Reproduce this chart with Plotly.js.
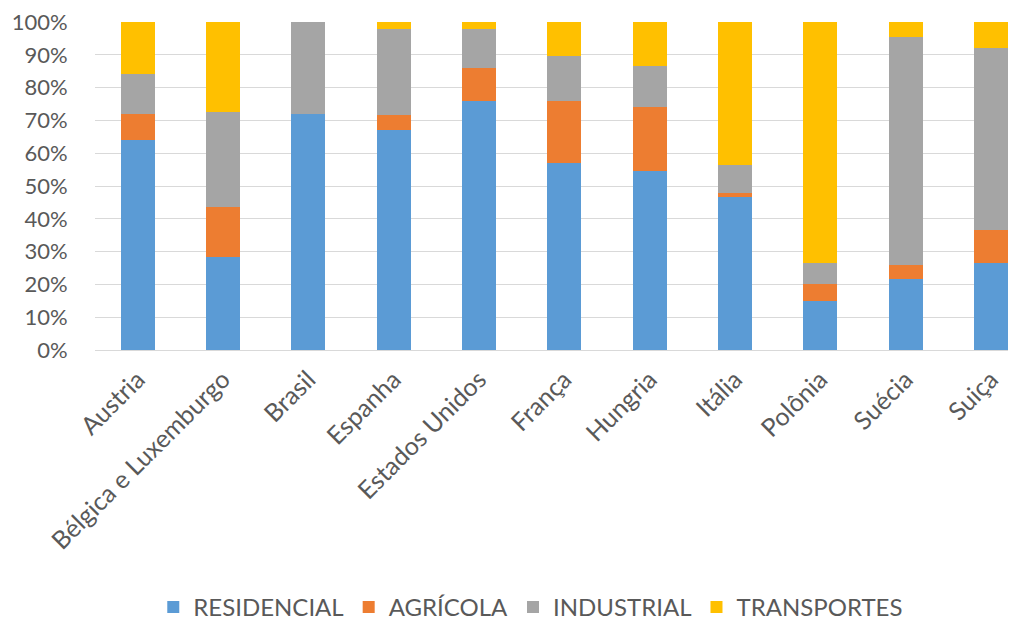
<!DOCTYPE html>
<html>
<head>
<meta charset="utf-8">
<script src="https://cdn.plot.ly/plotly-3.0.1.min.js"></script>
<style>html,body{margin:0;padding:0;background:#fff;}#chart{width:1011px;height:621px;}</style>
</head>
<body>
<div id="chart"></div>
<script>
const categories = ["Austria","Bélgica e Luxemburgo","Brasil","Espanha","Estados Unidos","França","Hungria","Itália","Polônia","Suécia","Suiça"];
const residencial = [64, 28.5, 72, 67, 76, 57, 54.5, 46.5, 15, 21.5, 26.5];
const agricola    = [8, 15, 0, 4.5, 10, 19, 19.5, 1.5, 5, 4.5, 10];
const industrial  = [12, 29, 28, 26.5, 12, 13.5, 12.5, 8.5, 6.5, 69.5, 55.5];
const transportes = [16, 27.5, 0, 2, 2, 10.5, 13.5, 43.5, 73.5, 4.5, 8];
const seriesNames = ["RESIDENCIAL","AGRÍCOLA","INDUSTRIAL","TRANSPORTES"];
const tickVals = [0,10,20,30,40,50,60,70,80,90,100];

const colors = ["#5B9BD5","#ED7D31","#A5A5A5","#FFC000"];
const seriesData = [residencial, agricola, industrial, transportes];
const font = "Lato, 'Open Sans', sans-serif";

const traces = seriesData.map((d, i) => ({
  type: "bar",
  x: categories,
  y: d,
  name: seriesNames[i],
  marker: {color: colors[i]},
  hoverinfo: "skip"
}));

const layout = {
  width: 1011, height: 621,
  margin: {l: 95, r: 3, t: 22, b: 271},
  paper_bgcolor: "#fff", plot_bgcolor: "#fff",
  barmode: "stack",
  bargap: 0.6,
  font: {family: font, color: "#595959", size: 22},
  xaxis: {
    type: "category",
    range: [-0.5, 10.2],
    tickangle: -45,
    showgrid: false,
    showline: true, linecolor: "#D9D9D9", linewidth: 1,
    ticks: "outside", ticklen: 4, tickcolor: "rgba(0,0,0,0)",
    tickfont: {size: 25, color: "#595959", family: font},
    automargin: false,
    fixedrange: true
  },
  yaxis: {
    range: [0, 100],
    tickvals: tickVals,
    ticktext: tickVals.map(v => v + "%"),
    showgrid: true, gridcolor: "#D9D9D9", gridwidth: 1,
    zeroline: false,
    ticks: "outside", ticklen: 22, tickcolor: "rgba(0,0,0,0)",
    tickfont: {size: 22, color: "#595959", family: font},
    automargin: false,
    fixedrange: true
  },
  showlegend: true,
  legend: {
    orientation: "h",
    traceorder: "normal",
    xref: "container", yref: "container",
    x: 0.525, xanchor: "center",
    y: 0.022, yanchor: "middle",
    font: {size: 24, color: "#595959", family: font},
    itemwidth: 30
  }
};

Plotly.newPlot("chart", traces, layout, {displayModeBar: false, staticPlot: true});
</script>
</body>
</html>
